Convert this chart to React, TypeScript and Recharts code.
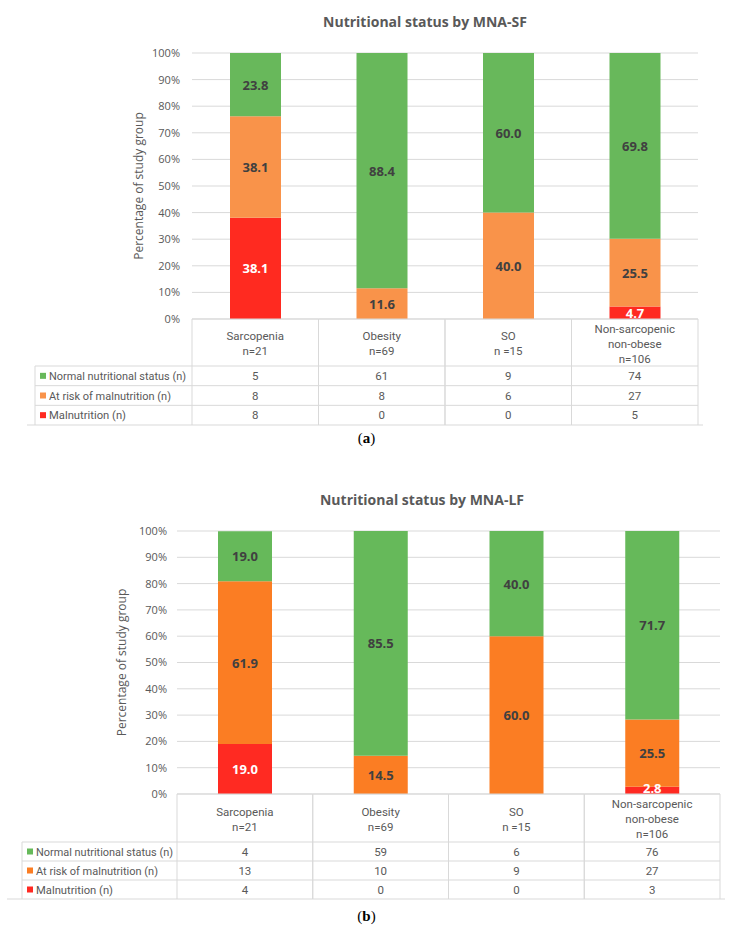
import React from 'react';
import { BarChart, Bar, XAxis, YAxis, CartesianGrid, LabelList } from 'recharts';

const categoryLines: string[][] = [
  ['Sarcopenia', 'n=21'],
  ['Obesity', 'n=69'],
  ['SO', 'n =15'],
  ['Non-sarcopenic', 'non-obese', 'n=106'],
];
const categories = ['Sarcopenia', 'Obesity', 'SO', 'Non-sarcopenic non-obese'];
const seriesNames = ['Normal nutritional status (n)', 'At risk of malnutrition (n)', 'Malnutrition (n)'];
const seriesNameWidths = [137, 122, 77];
const yTicks = [0, 10, 20, 30, 40, 50, 60, 70, 80, 90, 100];

// (a) MNA-SF, percentages
const sfMalnutrition = [38.1, 0, 0, 4.7];
const sfRisk = [38.1, 11.6, 40.0, 25.5];
const sfNormal = [23.8, 88.4, 60.0, 69.8];
// (a) counts
const sfCountNormal = [5, 61, 9, 74];
const sfCountRisk = [8, 8, 6, 27];
const sfCountMal = [8, 0, 0, 5];

// (b) MNA-LF, percentages
const lfMalnutrition = [19.0, 0, 0, 2.8];
const lfRisk = [61.9, 14.5, 60.0, 25.5];
const lfNormal = [19.0, 85.5, 40.0, 71.7];
// (b) counts
const lfCountNormal = [4, 59, 6, 76];
const lfCountRisk = [13, 10, 9, 27];
const lfCountMal = [4, 0, 0, 3];

const GRID = '#d9d9d9';
const TEXT = '#595959';
const DARK = '#404040';
const NARROW = "Roboto, 'Noto Sans', sans-serif";
const SANS = "'Open Sans', 'Noto Sans', sans-serif";

type Cfg = {
  top: number;
  title: string;
  titleCx: number;
  plotLeft: number;
  plotRight: number;
  yAxisWidth: number;
  tickMargin: number;
  plotTop: number;
  plotHeight: number;
  headerH: number;
  rowH: number;
  tableLeft: number;
  squareX: number;
  textX: number;
  lineLeft: number;
  lineRight: number;
  barSize: number;
  colors: string[]; // normal, risk, mal
  mal: number[];
  risk: number[];
  normal: number[];
  counts: number[][]; // normal, risk, mal
  caption: string;
  captionY: number;
};

const cfgA: Cfg = {
  top: 0,
  title: 'Nutritional status by MNA-SF',
  titleCx: 425,
  plotLeft: 192,
  plotRight: 698,
  yAxisWidth: 106,
  tickMargin: 6,
  plotTop: 53,
  plotHeight: 266,
  headerH: 47,
  rowH: 19.67,
  tableLeft: 35,
  squareX: 40,
  textX: 49,
  lineLeft: 27,
  lineRight: 703,
  barSize: 51,
  colors: ['#68b85b', '#f9934a', '#ff2a20'],
  mal: sfMalnutrition,
  risk: sfRisk,
  normal: sfNormal,
  counts: [sfCountNormal, sfCountRisk, sfCountMal],
  caption: 'a',
  captionY: 438,
};

const cfgB: Cfg = {
  top: 478,
  title: 'Nutritional status by MNA-LF',
  titleCx: 422,
  plotLeft: 177,
  plotRight: 720,
  yAxisWidth: 110,
  tickMargin: 4,
  plotTop: 53,
  plotHeight: 263,
  headerH: 48,
  rowH: 19,
  tableLeft: 22,
  squareX: 27,
  textX: 36,
  lineLeft: 7,
  lineRight: 725,
  barSize: 54,
  colors: ['#66b95a', '#fb7d23', '#ff2a22'],
  mal: lfMalnutrition,
  risk: lfRisk,
  normal: lfNormal,
  counts: [lfCountNormal, lfCountRisk, lfCountMal],
  caption: 'b',
  captionY: 916,
};

const makeLabel = (color: string) => (props: any) => {
  const { x, y, width, height, value } = props;
  if (!value) return null;
  const h = Number(height);
  const cy = h < 13 ? Number(y) + h - 6.5 : Number(y) + h / 2;
  return (
    <text
      x={Number(x) + Number(width) / 2}
      y={cy}
      fill={color}
      textAnchor="middle"
      dominantBaseline="central"
      fontFamily={SANS}
      fontWeight={700}
      fontSize={13}
    >
      {Number(value).toFixed(1)}
    </text>
  );
};

const makeTick = (cfg: Cfg) => (props: any) => {
  const { x, y, index } = props;
  const cx = Number(x);
  const top = Number(y);
  const bw = (cfg.plotRight - cfg.plotLeft) / 4;
  const left = cx - bw / 2;
  const right = cx + bw / 2;
  const hh = cfg.headerH;
  const rh = cfg.rowH;
  const bottom = top + hh + 3 * rh;
  const lines = categoryLines[index] || [];
  const els: React.ReactNode[] = [];
  els.push(<line key="t" x1={left} x2={right} y1={top} y2={top} stroke={GRID} />);
  els.push(<line key="l" x1={left} x2={left} y1={top} y2={bottom} stroke={GRID} />);
  els.push(<line key="r" x1={right} x2={right} y1={top} y2={bottom} stroke={GRID} />);
  for (let r = 0; r < 3; r++) {
    els.push(
      <line key={'h' + r} x1={left} x2={right} y1={top + hh + r * rh} y2={top + hh + r * rh} stroke={GRID} />
    );
  }
  lines.forEach((ln, i) => {
    els.push(
      <text
        key={'c' + i}
        x={cx}
        y={top + hh / 2 - ((lines.length - 1) * 15) / 2 + i * 15 + 1}
        textAnchor="middle"
        dominantBaseline="central"
        fontFamily={NARROW}
        fontSize={11.5}
        fill={TEXT}
      >
        {ln}
      </text>
    );
  });
  cfg.counts.forEach((row, r) => {
    els.push(
      <text
        key={'v' + r}
        x={cx}
        y={top + hh + r * rh + rh / 2}
        textAnchor="middle"
        dominantBaseline="central"
        fontFamily={NARROW}
        fontSize={11.5}
        fill={TEXT}
      >
        {row[index]}
      </text>
    );
  });
  if (index === 0) {
    els.push(<line key="L" x1={cfg.tableLeft} x2={cfg.tableLeft} y1={top + hh} y2={bottom} stroke={GRID} />);
    for (let r = 0; r < 3; r++) {
      const yy = top + hh + r * rh;
      els.push(<line key={'lh' + r} x1={cfg.tableLeft} x2={left} y1={yy} y2={yy} stroke={GRID} />);
      els.push(
        <rect key={'sq' + r} x={cfg.squareX} y={yy + rh / 2 - 3} width={6} height={6} fill={cfg.colors[r]} />
      );
      els.push(
        <text
          key={'sn' + r}
          x={cfg.textX}
          y={yy + rh / 2}
          dominantBaseline="central"
          fontFamily={NARROW}
          fontSize={11.5}
          fill={TEXT}
          textLength={seriesNameWidths[r]}
          lengthAdjust="spacingAndGlyphs"
        >
          {seriesNames[r]}
        </text>
      );
    }
    els.push(<line key="B" x1={cfg.lineLeft} x2={cfg.lineRight} y1={bottom} y2={bottom} stroke={GRID} />);
  }
  return <g>{els}</g>;
};

function Panel({ cfg }: { cfg: Cfg }) {
  const data = categories.map((c, i) => ({
    name: c,
    mal: cfg.mal[i],
    risk: cfg.risk[i],
    normal: cfg.normal[i],
  }));
  const xAxisH = cfg.headerH + 3 * cfg.rowH;
  const height = 430;
  const bottomMargin = height - cfg.plotTop - cfg.plotHeight - xAxisH;
  return (
    <div style={{ position: 'absolute', left: 0, top: cfg.top, width: 733, height }}>
      <div
        style={{
          position: 'absolute',
          left: cfg.titleCx - 200,
          width: 400,
          top: 11,
          lineHeight: '22px',
          textAlign: 'center',
          fontFamily: SANS,
          fontWeight: 700,
          fontSize: 14,
          color: TEXT,
        }}
      >
        {cfg.title}
      </div>
      <BarChart
        width={733}
        height={height}
        data={data}
        margin={{
          top: cfg.plotTop,
          right: 733 - cfg.plotRight,
          bottom: bottomMargin,
          left: cfg.plotLeft - cfg.yAxisWidth,
        }}
        barCategoryGap={0}
      >
        <CartesianGrid vertical={false} stroke={GRID} />
        <YAxis
          type="number"
          domain={[0, 100]}
          ticks={yTicks}
          width={cfg.yAxisWidth}
          axisLine={false}
          tickLine={false}
          tickMargin={cfg.tickMargin}
          tickFormatter={(v: number) => `${v}%`}
          tick={{ fill: TEXT, fontSize: 11, fontFamily: SANS }}
          label={{
            value: 'Percentage of study group',
            angle: -90,
            position: 'center',
            fill: TEXT,
            fontSize: 12,
            fontFamily: SANS,
          }}
        />
        <XAxis
          dataKey="name"
          type="category"
          height={xAxisH}
          axisLine={false}
          tickLine={false}
          tickSize={0}
          tickMargin={0}
          interval={0}
          tick={makeTick(cfg)}
        />
        <Bar dataKey="mal" stackId="s" fill={cfg.colors[2]} barSize={cfg.barSize} isAnimationActive={false}>
          <LabelList dataKey="mal" content={makeLabel('#ffffff')} />
        </Bar>
        <Bar dataKey="risk" stackId="s" fill={cfg.colors[1]} barSize={cfg.barSize} isAnimationActive={false}>
          <LabelList dataKey="risk" content={makeLabel(DARK)} />
        </Bar>
        <Bar dataKey="normal" stackId="s" fill={cfg.colors[0]} barSize={cfg.barSize} isAnimationActive={false}>
          <LabelList dataKey="normal" content={makeLabel(DARK)} />
        </Bar>
      </BarChart>
    </div>
  );
}

function Caption({ letter, y }: { letter: string; y: number }) {
  return (
    <div
      style={{
        position: 'absolute',
        left: 0,
        width: 733,
        top: y - 10,
        lineHeight: '20px',
        textAlign: 'center',
        fontFamily: "'Liberation Serif', 'DejaVu Serif', serif",
        fontSize: 15,
        color: '#000',
      }}
    >
      (<b>{letter}</b>)
    </div>
  );
}

export default function App() {
  return (
    <div style={{ position: 'absolute', left: 0, top: 0, width: 733, height: 935, background: '#ffffff' }}>
      <Panel cfg={cfgA} />
      <Panel cfg={cfgB} />
      <Caption letter="a" y={cfgA.captionY} />
      <Caption letter="b" y={cfgB.captionY} />
    </div>
  );
}
